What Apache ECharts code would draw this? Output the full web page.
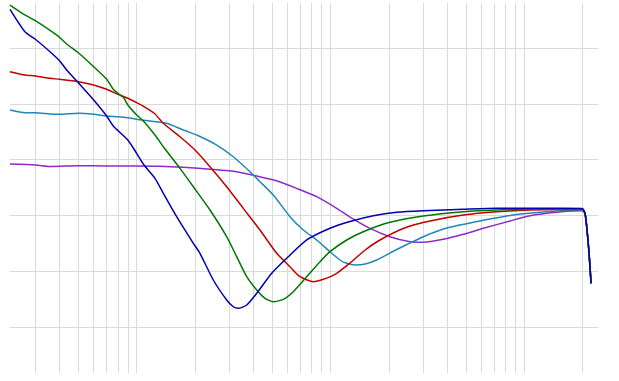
<!DOCTYPE html>
<html>
<head>
<meta charset="utf-8">
<script src="https://cdn.jsdelivr.net/npm/echarts@6/dist/echarts.min.js"></script>
<style>html,body{margin:0;padding:0;background:#fff}#c{width:619px;height:381px}</style>
</head>
<body>
<div id="c"></div>
<script>
// Frequency axis (log) extent and grid lines
const xMin = 22.2, xMax = 24000;
const yMin = -58.3, yMax = 8.1;
const xGridValues = [30,40,50,60,70,80,90,100,200,300,400,500,600,700,800,900,1000,2000,3000,4000,5000,6000,7000,8000,9000,10000,20000];
const yGridValues = [0,-10,-20,-30,-40,-50];

// Series data: [frequency, level]
const tail = [[20576,-29.68],[21070,-32.64],[21580,-36.77],[22100,-42.21]];

const blueData = [[22.2,6.97],[26.5,2.95],[30,1.59],[35.7,-0.64],[40,-2.26],[43.5,-3.92],[50,-6.2],[60,-9.31],[70,-12.18],[75.7,-13.98],[90,-16.49],[100,-18.88],[109.1,-20.98],[124.3,-23.36],[137.2,-26.05],[160.8,-30.25],[196,-35.03],[212.1,-36.82],[248.5,-41.61],[291.3,-45.2],[315,-46.41],[334.4,-46.69],[369.6,-46.1],[416.2,-44.0],[497.3,-40.41],[594.3,-37.72],[754,-34.43],[994,-32.33],[1261,-31.11],[1663,-30.07],[2196,-29.46],[3012,-29.18],[4844,-28.93],[7202,-28.75],[10700,-28.75],[15895,-28.75],[19928,-28.78]];
const greenData = [[22.2,7.74],[26.5,5.95],[30,4.92],[36.5,2.95],[40,1.94],[43.5,0.74],[50,-0.82],[60,-3.33],[70,-5.59],[75.7,-7.39],[80,-8.11],[85.3,-8.82],[90,-10.21],[100,-12.0],[109.1,-13.2],[124.3,-15.59],[137.2,-17.69],[167.3,-21.57],[196,-24.87],[238.9,-29.05],[291.3,-33.84],[328,-37.43],[369.6,-41.02],[416.2,-43.41],[459.2,-44.9],[507,-45.51],[570.7,-45.08],[642.7,-43.71],[754,-41.02],[882.8,-38.33],[994,-36.53],[1212,-34.43],[1476,-32.94],[2028,-31.26],[3012,-30.13],[4844,-29.36],[7202,-29.05],[10700,-28.93],[19928,-28.87]];
const redData = [[22.2,-4.23],[26.5,-4.82],[30,-5.0],[35.7,-5.41],[40,-5.59],[50,-6.02],[60,-6.62],[70,-7.39],[80,-8.29],[90,-9.0],[100,-9.79],[109.1,-10.51],[124.3,-11.82],[137.2,-13.49],[167.3,-15.9],[200,-18.28],[238.9,-21.28],[291.3,-24.87],[354.8,-28.75],[432.8,-32.64],[527.8,-36.82],[618,-39.23],[696,-41.02],[815.3,-41.92],[918,-41.49],[1076.6,-40.41],[1261,-38.56],[1510,-36.23],[1800,-34.43],[2410,-32.28],[3262,-31.02],[4844,-29.95],[7202,-29.36],[10700,-29.05],[19928,-28.91]];
const tealData = [[22.2,-11.1],[26.5,-11.59],[30,-11.59],[35.7,-11.82],[40,-11.88],[50,-11.7],[60,-11.88],[70,-12.18],[80,-12.31],[90,-12.49],[100,-12.77],[117.1,-13.08],[142.8,-13.49],[174,-14.69],[204,-15.59],[258.7,-17.39],[315,-19.49],[384.3,-22.18],[432.8,-23.97],[507,-26.36],[618,-30.25],[723.8,-32.64],[848.9,-34.43],[994,-36.53],[1119.5,-38.02],[1212,-38.62],[1349,-38.92],[1510,-38.74],[1731,-38.02],[2196,-36.14],[3012,-33.84],[3978,-32.28],[5906,-31.02],[8774,-29.95],[13050,-29.36],[19928,-29.11]];
const purpleData = [[22.2,-20.8],[30,-20.98],[36.5,-21.24],[50,-21.1],[70,-21.15],[100,-21.15],[131.9,-21.19],[174,-21.39],[248.5,-21.78],[328,-22.18],[416.2,-22.95],[527.8,-23.79],[669.2,-25.16],[848.9,-26.66],[1076.6,-28.75],[1261,-30.31],[1599,-32.34],[2028,-33.84],[2572,-34.74],[3012,-34.85],[3819,-34.31],[4844,-33.41],[6142,-32.34],[8437,-31.02],[10700,-30.07],[14700,-29.46],[19928,-29.2]];

const seriesNames = ['purple','teal','red','green','blue'];
const seriesColors = ['#8a2ccc','#1e88b8','#c00000','#007800','#0000b0'];
const seriesData = [purpleData, tealData, redData, greenData, blueData];

const chart = echarts.init(document.getElementById('c'), null, {renderer:'canvas'});
const gridLineStyle = {color:'#dadada', width:1, type:'solid'};
const lineSeries = seriesData.map((d, i) => ({
  name: seriesNames[i],
  type: 'line',
  data: d.concat(tail),
  showSymbol: false,
  symbol: 'none',
  smooth: 0.2,
  z: 10 + i,
  lineStyle: {color: seriesColors[i], width: 1.5},
  itemStyle: {color: seriesColors[i]},
  silent: true
}));

chart.setOption({
  animation: false,
  backgroundColor: '#ffffff',
  grid: {left: 10, right: 21, top: 3, bottom: 8, containLabel: false},
  xAxis: {
    type: 'log', logBase: 10, min: xMin, max: xMax,
    axisLine: {show:false}, axisTick: {show:false}, axisLabel: {show:false},
    splitLine: {show:false}, minorTick:{show:false}, minorSplitLine:{show:false}
  },
  yAxis: {
    type: 'value', min: yMin, max: yMax,
    axisLine: {show:false}, axisTick: {show:false}, axisLabel: {show:false},
    splitLine: {show:false}
  },
  series: [{
    name: 'grid', type: 'line', data: [], z: 1, silent: true,
    markLine: {
      z: 1,
      silent: true, symbol: ['none','none'], animation: false,
      label: {show:false}, lineStyle: gridLineStyle,
      emphasis: {disabled: true},
      data: xGridValues.map(v => ({xAxis: v})).concat(yGridValues.map(v => ({yAxis: v})))
    }
  }].concat(lineSeries)
});
</script>
</body>
</html>
